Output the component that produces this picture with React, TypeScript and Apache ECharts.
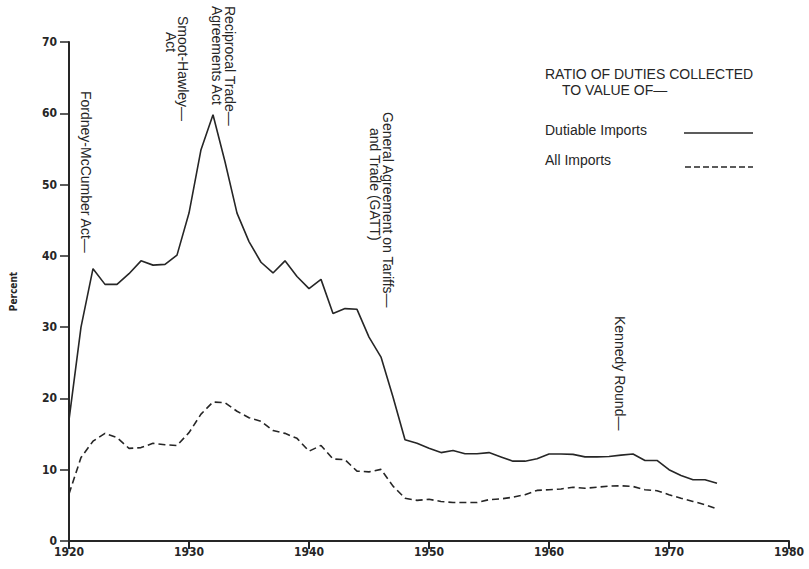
import React, { useEffect, useRef } from "react";
import * as echarts from "echarts";

const years = [
  1920, 1921, 1922, 1923, 1924, 1925, 1926, 1927, 1928, 1929,
  1930, 1931, 1932, 1933, 1934, 1935, 1936, 1937, 1938, 1939,
  1940, 1941, 1942, 1943, 1944, 1945, 1946, 1947, 1948, 1949,
  1950, 1951, 1952, 1953, 1954, 1955, 1956, 1957, 1958, 1959,
  1960, 1961, 1962, 1963, 1964, 1965, 1966, 1967, 1968, 1969,
  1970, 1971, 1972, 1973, 1974,
];

const dutiableImports = [
  17.0, 30.0, 38.2, 36.0, 36.0, 37.5, 39.3, 38.7, 38.8, 40.1,
  46.0, 54.9, 59.8, 53.2, 46.0, 42.0, 39.1, 37.6, 39.3, 37.1,
  35.4, 36.7, 31.9, 32.6, 32.5, 28.6, 25.8, 20.2, 14.2, 13.7,
  13.0, 12.4, 12.7, 12.25, 12.25, 12.4, 11.8, 11.2, 11.2, 11.55,
  12.2, 12.2, 12.15, 11.8, 11.8, 11.85, 12.05, 12.2, 11.3, 11.3,
  10.0, 9.2, 8.6, 8.6, 8.1,
];

const allImports = [
  6.6, 11.7, 14.0, 15.1, 14.5, 13.0, 13.1, 13.7, 13.5, 13.4,
  15.2, 17.8, 19.5, 19.4, 18.2, 17.3, 16.8, 15.5, 15.1, 14.4,
  12.6, 13.4, 11.5, 11.4, 9.8, 9.7, 10.05, 7.7, 6.0, 5.7,
  5.85, 5.55, 5.4, 5.4, 5.4, 5.8, 5.9, 6.15, 6.5, 7.1,
  7.2, 7.3, 7.55, 7.4, 7.55, 7.7, 7.75, 7.65, 7.2, 7.05,
  6.5, 6.0, 5.55, 5.1, 4.5,
];

const seriesNames = ["Dutiable Imports", "All Imports"];
const legendTitle = ["RATIO OF DUTIES COLLECTED", "TO VALUE OF—"];

// annotation texts (vertical, reading top to bottom)
const annotations = [
  { lines: ["Fordney-McCumber Act—"], x: [86], y: [91] },
  { lines: ["Smoot-Hawley—", "Act"], x: [183, 171], y: [16, 32] },
  { lines: ["Reciprocal Trade—", "Agreements Act"], x: [230, 217], y: [6, 6] },
  { lines: ["General Agreement on Tariffs—", "and Trade (GATT)"], x: [388, 375], y: [112, 128] },
  { lines: ["Kennedy Round—"], x: [620], y: [316] },
];

const INK = "#262626";
const FONT = "'Liberation Sans', Arial, Helvetica, sans-serif";
const NARROW = "'Liberation Sans Narrow', 'DejaVu Sans Condensed', 'Liberation Sans', sans-serif";

export default function App() {
  const ref = useRef<HTMLDivElement>(null);

  useEffect(() => {
    if (!ref.current) return;
    const chart = echarts.init(ref.current, undefined, { renderer: "svg" });

    const graphics: any[] = [];
    annotations.forEach((a) => {
      a.lines.forEach((line, i) => {
        graphics.push({
          type: "text",
          x: a.x[i],
          y: a.y[i],
          rotation: -Math.PI / 2,
          style: {
            text: line,
            fill: INK,
            font: `14px ${FONT}`,
            textAlign: "left",
            textVerticalAlign: "middle",
          },
        });
      });
    });

    // legend block
    graphics.push(
      {
        type: "text",
        x: 545,
        y: 74,
        style: { text: legendTitle[0], fill: INK, font: `14px ${FONT}`, textAlign: "left", textVerticalAlign: "middle" },
      },
      {
        type: "text",
        x: 562,
        y: 90,
        style: { text: legendTitle[1], fill: INK, font: `14px ${FONT}`, textAlign: "left", textVerticalAlign: "middle" },
      },
      {
        type: "text",
        x: 545,
        y: 130,
        style: { text: seriesNames[0], fill: INK, font: `14px ${FONT}`, textAlign: "left", textVerticalAlign: "middle" },
      },
      {
        type: "line",
        shape: { x1: 684, y1: 133, x2: 753, y2: 133 },
        style: { stroke: INK, lineWidth: 1.6 },
      },
      {
        type: "text",
        x: 545,
        y: 160,
        style: { text: seriesNames[1], fill: INK, font: `14px ${FONT}`, textAlign: "left", textVerticalAlign: "middle" },
      },
      {
        type: "line",
        shape: { x1: 685, y1: 167, x2: 753, y2: 167 },
        style: { stroke: INK, lineWidth: 1.6, lineDash: [6, 3] },
      }
    );

    chart.setOption({
      animation: false,
      backgroundColor: "#ffffff",
      grid: { left: 62, right: 20, top: 42, bottom: 28, containLabel: false },
      xAxis: {
        type: "value",
        min: 1920,
        max: 1980,
        interval: 10,
        axisLine: { show: true, lineStyle: { color: INK, width: 2 } },
        axisTick: { show: true, inside: false, length: 8, lineStyle: { color: INK, width: 2 } },
        axisLabel: {
          color: INK,
          fontSize: 12,
          fontWeight: "bold",
          fontFamily: NARROW,
          margin: 5,
          formatter: (v: number) => String(v),
        },
        splitLine: { show: false },
      },
      yAxis: {
        type: "value",
        min: 0,
        max: 70,
        interval: 10,
        name: "Percent",
        nameLocation: "middle",
        nameRotate: 90,
        nameGap: 51,
        nameTextStyle: { color: INK, fontSize: 10, fontWeight: "bold", fontFamily: NARROW },
        axisLine: { show: true, lineStyle: { color: INK, width: 2 } },
        axisTick: { show: true, inside: false, length: 9, lineStyle: { color: INK, width: 1.5 } },
        axisLabel: {
          color: INK,
          fontSize: 12,
          fontWeight: "bold",
          fontFamily: NARROW,
          margin: 12,
        },
        splitLine: { show: false },
      },
      series: [
        {
          name: seriesNames[0],
          type: "line",
          symbol: "none",
          data: years.map((y, i) => [y, dutiableImports[i]]),
          lineStyle: { color: INK, width: 1.6 },
        },
        {
          name: seriesNames[1],
          type: "line",
          symbol: "none",
          data: years.map((y, i) => [y, allImports[i]]),
          lineStyle: { color: INK, width: 1.6, type: [7, 4] },
        },
      ],
      graphic: graphics,
    });

    return () => {
      chart.dispose();
    };
  }, []);

  return (
    <div
      ref={ref}
      style={{ position: "fixed", left: 0, top: 0, width: 809, height: 569, background: "#fff" }}
    />
  );
}
